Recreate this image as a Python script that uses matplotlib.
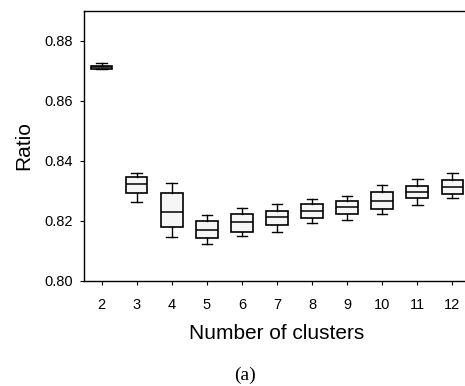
import matplotlib
matplotlib.use("Agg")
import matplotlib.pyplot as plt

plt.rcParams['font.family'] = ['Liberation Sans', 'DejaVu Sans']

clusters = [2, 3, 4, 5, 6, 7, 8, 9, 10, 11, 12]
whisker_low = [0.8705, 0.8264, 0.8148, 0.8123, 0.8150, 0.8164, 0.8192, 0.8203, 0.8222, 0.8253, 0.8276]
q1 = [0.8708, 0.8292, 0.8179, 0.8144, 0.8163, 0.8187, 0.8211, 0.8223, 0.8239, 0.8276, 0.8289]
median = [0.8712, 0.8323, 0.8229, 0.8170, 0.8196, 0.8214, 0.8234, 0.8248, 0.8268, 0.8296, 0.8312]
q3 = [0.8717, 0.8346, 0.8292, 0.8200, 0.8222, 0.8234, 0.8256, 0.8268, 0.8296, 0.8317, 0.8337]
whisker_high = [0.8728, 0.8360, 0.8328, 0.8220, 0.8244, 0.8257, 0.8272, 0.8284, 0.8320, 0.8339, 0.8359]
yticks = [0.80, 0.82, 0.84, 0.86, 0.88]

fig = plt.figure(figsize=(4.65, 3.86), dpi=100)
ax = fig.add_axes([0.1806, 1 - 281 / 386, 0.83, 270 / 386])

stats = []
for i in range(len(clusters)):
    stats.append(dict(whislo=whisker_low[i], q1=q1[i], med=median[i],
                      q3=q3[i], whishi=whisker_high[i], fliers=[]))

ax.bxp(stats, positions=clusters, widths=0.62, showfliers=False, patch_artist=True,
       boxprops=dict(facecolor='#f6f6f6', edgecolor='black', linewidth=1.2),
       medianprops=dict(color='black', linewidth=1.1),
       whiskerprops=dict(color='black', linewidth=1.0),
       capprops=dict(color='black', linewidth=1.0),
       capwidths=0.3)

ax.set_xlim(1.5, 12.5)
ax.set_ylim(0.80, 0.89)
ax.set_yticks(yticks)
ax.set_yticklabels([f"{v:.2f}" for v in yticks])
ax.set_xticks(clusters)
ax.set_xticklabels([str(c) for c in clusters])
ax.spines['right'].set_visible(False)
for s in ['left', 'top', 'bottom']:
    ax.spines[s].set_linewidth(1.0)
ax.tick_params(axis='both', direction='out', length=3, width=0.8, labelsize=10.5)
ax.tick_params(axis='y', pad=5)
ax.tick_params(axis='x', pad=9)

ax.set_ylabel("Ratio", fontsize=15, labelpad=8)
ax.set_xlabel("Number of clusters", fontsize=15, labelpad=9)

fig.text(0.527, 1 - 375 / 386, "(a)", ha='center', va='center', fontsize=14,
         family=['Liberation Serif', 'DejaVu Serif'])

fig.savefig("out.png", dpi=100)
